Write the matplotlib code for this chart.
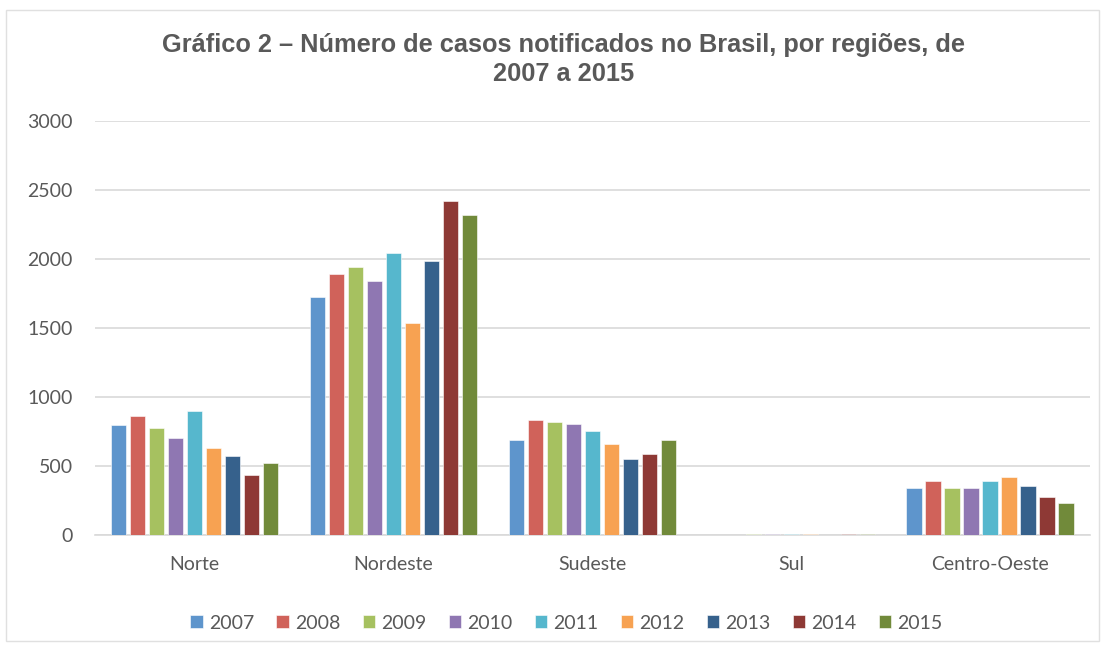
import numpy as np
import matplotlib.pyplot as plt
from matplotlib.patches import Rectangle

# Dados
regioes = ['Norte', 'Nordeste', 'Sudeste', 'Sul', 'Centro-Oeste']
anos = ['2007', '2008', '2009', '2010', '2011', '2012', '2013', '2014', '2015']

casos_2007 = [797, 1727, 688, 3, 338]
casos_2008 = [864, 1891, 833, 4, 394]
casos_2009 = [773, 1940, 821, 10, 343]
casos_2010 = [700, 1843, 807, 9, 338]
casos_2011 = [899, 2046, 751, 8, 394]
casos_2012 = [633, 1534, 662, 10, 423]
casos_2013 = [570, 1986, 551, 2, 353]
casos_2014 = [433, 2422, 589, 8, 275]
casos_2015 = [522, 2319, 688, 9, 232]

series = [casos_2007, casos_2008, casos_2009, casos_2010, casos_2011,
          casos_2012, casos_2013, casos_2014, casos_2015]

cores = ['#5e95cc', '#d0625a', '#a6c160', '#8f77b2', '#56b7cd',
         '#f7a252', '#36618c', '#8e3935', '#718a3a']

plt.rcParams['font.family'] = ['Lato', 'DejaVu Sans']

fig = plt.figure(figsize=(11.05, 6.47), dpi=100)
ax = fig.add_axes([0.086, 0.173, 0.900, 0.640])

x = np.arange(len(regioes))
passo = 0.0955
largura = 0.077
for i, (vals, cor, ano) in enumerate(zip(series, cores, anos)):
    deslocamento = (i - 4) * passo
    ax.bar(x + deslocamento, vals, largura, color=cor, label=ano,
           edgecolor='white', linewidth=0.4, zorder=3)

ax.set_xlim(-0.5, 4.5)
ax.set_ylim(0, 3000)
ax.set_yticks(range(0, 3001, 500))
ax.set_xticks(x)
ax.set_xticklabels(regioes)
ax.yaxis.grid(True, color='#d9d9d9', linewidth=1.2, zorder=0)
for lado in ['top', 'right', 'left']:
    ax.spines[lado].set_visible(False)
ax.spines['bottom'].set_color('#d9d9d9')
ax.spines['bottom'].set_linewidth(1.2)
ax.tick_params(axis='both', length=0, labelsize=14, colors='#595959')
ax.tick_params(axis='y', pad=16)
ax.tick_params(axis='x', pad=15)

fig.text(0.51, 0.908, 'Gráfico 2 – Número de casos notificados no Brasil, por regiões, de\n2007 a 2015',
         ha='center', va='center', fontsize=18.3, fontweight='bold', color='#595959',
         family='Liberation Sans', linespacing=1.22)

ax.legend(loc='upper center', bbox_to_anchor=(0.474, -0.15), ncol=9, frameon=False,
          fontsize=14, labelcolor='#595959', handlelength=0.65, handleheight=0.65,
          handletextpad=0.3, columnspacing=1.15)

fig.patches.append(Rectangle((0.005, 0.01), 0.99, 0.975, transform=fig.transFigure,
                             fill=False, edgecolor='#e0e0e0', linewidth=1))

fig.savefig('out.png', dpi=100)
